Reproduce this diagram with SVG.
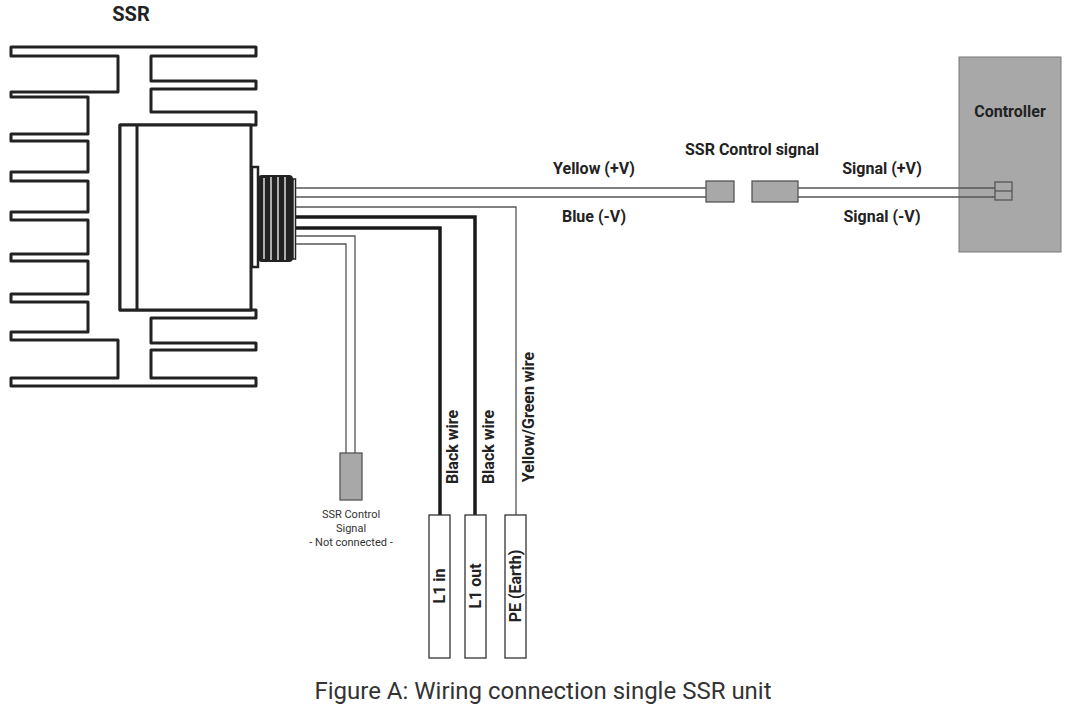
<svg xmlns="http://www.w3.org/2000/svg" width="1066" height="708" viewBox="0 0 1066 708">
<style>
.hs{fill:#fff;stroke:#222;stroke-width:3;stroke-linejoin:round}
.w{stroke:#555;stroke-width:1.3;fill:none}
.tk{stroke:#1a1a1a;stroke-width:3.5;fill:none}
.b{fill:#fff;stroke:#333;stroke-width:1.3}
.g{fill:#a8a8a8;stroke:#555;stroke-width:1.3}
.t{font-family:Roboto,"Liberation Sans",sans-serif;font-weight:bold;font-size:16px;fill:#222;text-anchor:middle}
.s{font-family:Roboto,"Liberation Sans",sans-serif;font-size:11px;fill:#333;text-anchor:middle}
</style>
<rect width="1066" height="708" fill="#fff"/>
<g id="controller">
<rect x="959" y="57" width="102" height="195" fill="#a8a8a8" stroke="#777" stroke-width="1"/>
<text class="t" x="1010" y="117">Controller</text>
</g>
<g id="ssr">
<path class="hs" d="M11,47 H256 V56 H151 V81 H256 V89 H151 V112 H256 V125 H120 V310 H256 V318 H151 V343 H256 V350 H151 V378 H256 V386 H11 V378 H118 V340 H11 V332 H88 V302 H11 V294 H88 V261 H11 V254 H88 V220 H11 V212 H88 V181 H11 V172 H88 V141 H11 V134 H88 V97 H11 V92 H118 V56 H11 Z"/>
<rect class="hs" x="120" y="125" width="131" height="185"/>
<line x1="137" y1="125" x2="137" y2="310" stroke="#222" stroke-width="3"/>
<rect x="252" y="167" width="6" height="100" fill="#fff" stroke="#222" stroke-width="2.5"/>
<rect x="258" y="175" width="35" height="87" rx="4" fill="#222"/>
<g stroke="#ddd" stroke-width="1.5"><line x1="264" y1="178" x2="264" y2="259"/><line x1="271" y1="177" x2="271" y2="260"/><line x1="278" y1="177" x2="278" y2="260"/><line x1="285" y1="177" x2="285" y2="260"/></g>
<rect x="293" y="179" width="2.5" height="80" fill="#fff" stroke="#222" stroke-width="1.5"/>
<text class="t" x="131" y="21" style="font-size:20px">SSR</text>
</g>
<g id="connectors">
<path class="w" d="M296,188 H706 M296,197 H706 M798,188 H995 M798,197 H995"/>
<path class="w" d="M296,207 H516 V515"/>
<path class="tk" d="M296,217 H475 V515"/>
<path class="tk" d="M296,228 H440 V515"/>
<path class="w" d="M296,236 H355 V453"/>
<path class="w" d="M296,244 H346 V453"/>
</g>
<g id="terminal">
<rect x="995" y="182" width="17" height="18" fill="none" stroke="#555" stroke-width="1.3"/>
<line x1="995" y1="191" x2="1012" y2="191" stroke="#555" stroke-width="1.3"/>
</g>
<g id="plug1"><rect class="g" x="706" y="181" width="28" height="21"/></g>
<g id="plug2"><rect class="g" x="752" y="181" width="46" height="21"/></g>
<g id="nc"><rect class="g" x="340" y="453" width="22" height="47"/>
<text class="s" x="351" y="518">SSR Control</text><text class="s" x="351" y="532">Signal</text><text class="s" x="351" y="546">- Not connected -</text></g>
<g id="l1in"><rect class="b" x="429" y="515" width="21" height="143"/><text class="t" transform="translate(445,586) rotate(-90)">L1 in</text></g>
<g id="l1out"><rect class="b" x="465" y="515" width="21" height="143"/><text class="t" transform="translate(481,586) rotate(-90)">L1 out</text></g>
<g id="pe"><rect class="b" x="505" y="515" width="21" height="143"/><text class="t" transform="translate(521,586) rotate(-90)">PE (Earth)</text></g>
<g id="labels">
<text class="t" x="594" y="174">Yellow (+V)</text>
<text class="t" x="594" y="222">Blue (-V)</text>
<text class="t" x="752" y="155">SSR Control signal</text>
<text class="t" x="882" y="174">Signal (+V)</text>
<text class="t" x="882" y="222">Signal (-V)</text>
<text class="t" transform="translate(458,447) rotate(-90)">Black wire</text>
<text class="t" transform="translate(494,447) rotate(-90)">Black wire</text>
<text class="t" transform="translate(534,417) rotate(-90)">Yellow/Green wire</text>
<text x="543" y="699" style="font-family:Roboto,'Liberation Sans',sans-serif;font-size:24px;fill:#333" text-anchor="middle">Figure A: Wiring connection single SSR unit</text>
</g>
</svg>
